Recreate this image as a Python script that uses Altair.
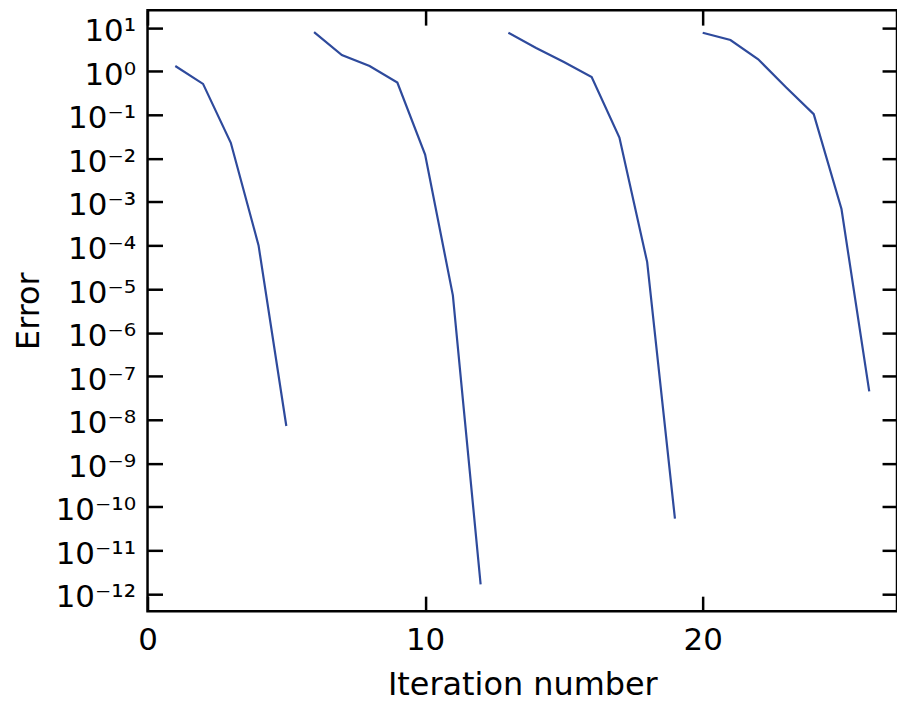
import altair as alt
import pandas as pd

# ---- data ----
iter_run1 = [1, 2, 3, 4, 5]
err_run1 = [1.33, 0.515, 0.0229, 1.01e-4, 7.2e-9]
iter_run2 = [6, 7, 8, 9, 10, 11, 12]
err_run2 = [7.94, 2.37, 1.33, 0.552, 0.0123, 7.2e-6, 1.66e-12]
iter_run3 = [13, 14, 15, 16, 17, 18, 19]
err_run3 = [7.69, 3.43, 1.64, 0.745, 0.0302, 4.17e-5, 5.37e-11]
iter_run4 = [20, 21, 22, 23, 24, 25, 26]
err_run4 = [7.69, 5.24, 1.89, 0.433, 0.104, 6.9e-4, 4.47e-8]

x_ticks = [0, 10, 20]
y_exponents = list(range(-12, 2))
y_tick_labels = ["10⁻¹²", "10⁻¹¹", "10⁻¹⁰", "10⁻⁹", "10⁻⁸", "10⁻⁷", "10⁻⁶",
                 "10⁻⁵", "10⁻⁴", "10⁻³", "10⁻²", "10⁻¹", "10⁰", "10¹"]

rows = []
for run, (xs, ys) in enumerate([(iter_run1, err_run1), (iter_run2, err_run2),
                                (iter_run3, err_run3), (iter_run4, err_run4)], start=1):
    for xv, yv in zip(xs, ys):
        rows.append({"run": run, "iter": xv, "err": yv})
df = pd.DataFrame(rows)

y_ticks = [10.0 ** e for e in y_exponents]
label_array = "[" + ",".join("'" + s + "'" for s in y_tick_labels) + "]"
label_expr = label_array + "[round(log(datum.value)/LN10) + 12]"

W, H = 752, 603
TICK = 15
FONT = "DejaVu Sans"
x_scale = alt.Scale(domain=[0, 27], nice=False, zero=False)
y_scale = alt.Scale(type="log", domain=[10 ** -12.394, 10 ** 1.405], nice=False)

base = alt.Chart(df)

line = base.mark_line(color="#2e4a9c", strokeWidth=2.2).encode(
    x=alt.X("iter:Q", scale=x_scale,
            axis=alt.Axis(orient="bottom", values=x_ticks, ticks=False, domain=False,
                          grid=False, labelFontSize=31, labelFont=FONT, labelColor="black",
                          labelPadding=14, labelFlush=False, labelOverlap=False,
                          title="Iteration number", titleFont=FONT,
                          titleFontSize=32, titleFontWeight="normal", titleColor="black",
                          titlePadding=15)),
    y=alt.Y("err:Q", scale=y_scale,
            axis=alt.Axis(orient="left", values=y_ticks, ticks=False, domain=False,
                          grid=False, labelExpr=label_expr, labelFontSize=31,
                          labelFont=FONT, labelColor="black", labelPadding=12,
                          labelOffset=4, labelFlush=False, labelOverlap=False,
                          title="Error", titleFont=FONT, titleFontSize=32,
                          titleFontWeight="normal", titleColor="black", titlePadding=10)),
    detail="run:N",
)

tick_style = dict(labels=False, domain=False, grid=False, ticks=True, tickSize=TICK,
                  tickWidth=2.5, tickColor="black", title=None)

# inward ticks: left edge and bottom edge
inner_a = base.mark_point(opacity=0).encode(
    x=alt.X("iter:Q", scale=x_scale,
            axis=alt.Axis(orient="top", offset=-H, values=x_ticks, **tick_style)),
    y=alt.Y("err:Q", scale=y_scale,
            axis=alt.Axis(orient="left", offset=-TICK, values=y_ticks, **tick_style)),
)
# inward ticks: right edge and top edge
inner_b = base.mark_point(opacity=0).encode(
    x=alt.X("iter:Q", scale=x_scale,
            axis=alt.Axis(orient="bottom", offset=-H, values=x_ticks, **tick_style)),
    y=alt.Y("err:Q", scale=y_scale,
            axis=alt.Axis(orient="left", offset=-W, values=y_ticks, **tick_style)),
)

chart = (
    alt.layer(line, inner_a, inner_b)
    .resolve_axis(x="independent", y="independent")
    .properties(
        width=W, height=H,
        autosize=alt.AutoSizeParams(type="none"),
        padding={"left": 140, "top": 1, "right": 0, "bottom": 90},
    )
    .configure(background="white")
    .configure_view(stroke="black", strokeWidth=2.5)
)

chart.save("out.html", embed_options={"renderer": "svg", "actions": False})
